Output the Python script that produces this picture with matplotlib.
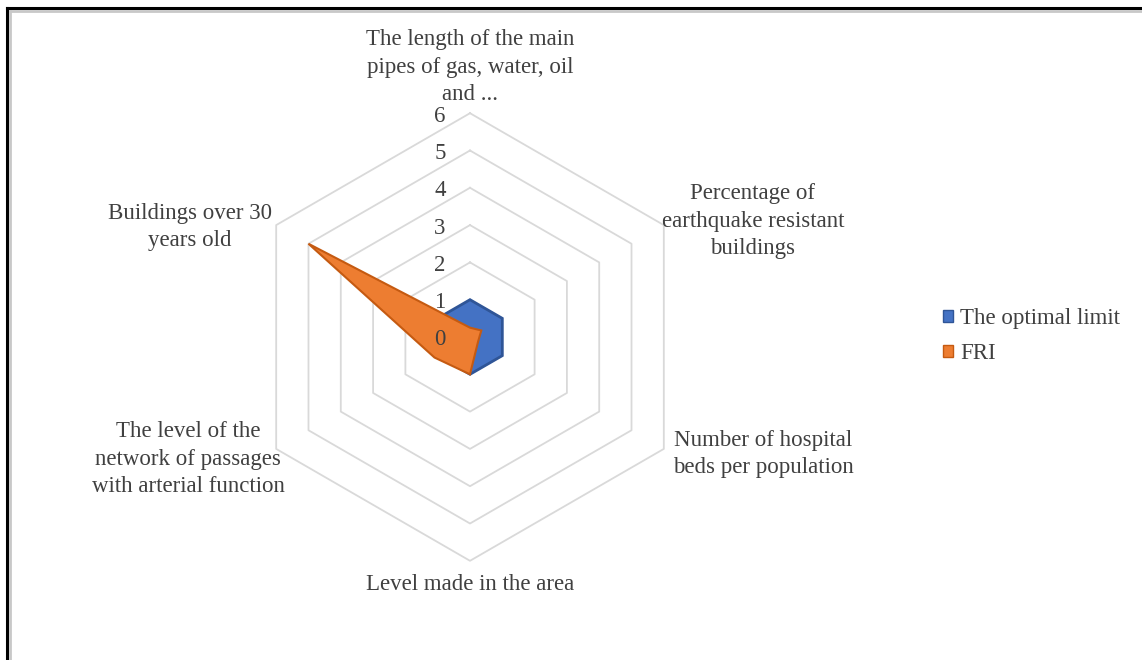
import numpy as np
import matplotlib
matplotlib.use("Agg")
import matplotlib.pyplot as plt
from matplotlib.patches import Patch
from matplotlib.lines import Line2D

plt.rcParams['font.family'] = ['Liberation Serif', 'DejaVu Serif']

# data
categories = [
    "The length of the main\npipes of gas, water, oil\nand ...",
    "Percentage of\nearthquake resistant\nbuildings",
    "Number of hospital\nbeds per population",
    "Level made in the area",
    "The level of the\nnetwork of passages\nwith arterial function",
    "Buildings over 30\nyears old",
]
optimal_limit = [1, 1, 1, 1, 1, 1]
fri = [0.25, 0.35, 0.25, 1.0, 1.1, 5.0]
ticks = [0, 1, 2, 3, 4, 5, 6]
series_names = ["The optimal limit", "FRI"]

W, H = 1142, 660
CX, CY, UNIT = 470, 337, 37.3   # pixel centre of radar and pixels per unit
FS = 16.5


def pix(px, py):
    # pixel position -> data coords
    return (px - CX) / UNIT, (CY - py) / UNIT


def to_xy(vals):
    n = len(vals)
    ang = np.pi / 2 - np.arange(n) * 2 * np.pi / n
    v = np.asarray(vals, dtype=float)
    x = v * np.cos(ang)
    y = v * np.sin(ang)
    return np.append(x, x[0]), np.append(y, y[0])


fig = plt.figure(figsize=(W / 100, H / 100), dpi=100)
ax = fig.add_axes([0, 0, 1, 1])
x0, y0 = pix(0, H)
x1, y1 = pix(W, 0)
ax.set_xlim(x0, x1)
ax.set_ylim(y0, y1)
ax.axis('off')

# hexagon grid
for t in ticks[1:]:
    gx, gy = to_xy([t] * len(categories))
    ax.plot(gx, gy, color='#d9d9d9', lw=1.3, zorder=1)

# series
bx, by = to_xy(optimal_limit)
ax.fill(bx, by, facecolor='#4472c4', edgecolor='#2f5597', lw=2, zorder=2)
ox, oy = to_xy(fri)
ax.fill(ox, oy, facecolor='#ed7d31', edgecolor='#c55a11', lw=1.5, zorder=3)

# value labels
tx, _ = pix(440, 0)
for t in ticks:
    ax.text(tx, t - 0.08, str(t), ha='center', va='center', fontsize=FS,
            color='#404040', zorder=4)

# category labels
label_pos = [(470, 67), (753, 221), (763, 454), (470, 584), (188, 459), (190, 227)]
for lab, (px, py) in zip(categories, label_pos):
    lx, ly = pix(px, py)
    ax.text(lx, ly, lab, ha='center', va='center', fontsize=FS,
            color='#404040', linespacing=1.38)

# legend
handles = [Patch(facecolor='#4472c4', edgecolor='#2f5597'),
           Patch(facecolor='#ed7d31', edgecolor='#c55a11')]
leg = ax.legend(handles, series_names, loc='center left',
                bbox_to_anchor=(922 / W, 1 - 336 / H), bbox_transform=fig.transFigure,
                frameon=False, fontsize=FS, handlelength=0.45, handleheight=0.45,
                handletextpad=0.3, labelspacing=0.6)
for t in leg.get_texts():
    t.set_color('#404040')

# frame (left and top edges of the screenshot border)
fig.add_artist(Line2D([7 / W, 7 / W], [0, 1 - 8 / H], color='black', lw=2.2,
                      transform=fig.transFigure))
fig.add_artist(Line2D([7 / W, 1], [1 - 8 / H, 1 - 8 / H], color='black', lw=2.2,
                      transform=fig.transFigure))
fig.add_artist(Line2D([10 / W, 10 / W], [0, 1 - 11 / H], color='#c8c8c8', lw=2,
                      transform=fig.transFigure))
fig.add_artist(Line2D([10 / W, 1], [1 - 11 / H, 1 - 11 / H], color='#c8c8c8', lw=2,
                      transform=fig.transFigure))

fig.savefig('out.png', dpi=100)
